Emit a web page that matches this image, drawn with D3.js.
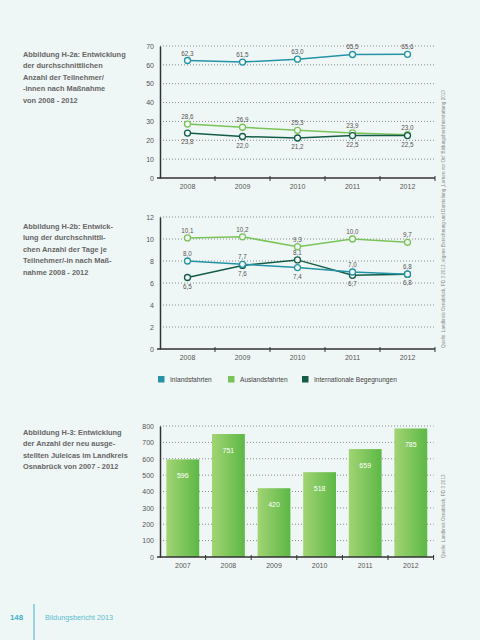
<!DOCTYPE html>
<html><head><meta charset="utf-8">
<script src="https://cdn.jsdelivr.net/npm/d3@7/dist/d3.min.js"></script>
<style>
html,body{margin:0;padding:0;background:#eff7f6;}
svg{display:block;font-family:"Liberation Sans",Arial,sans-serif;}
</style></head><body>
<svg id="c" width="480" height="640"></svg>
<script>
// ---------- DATA ----------
const years = ["2008", "2009", "2010", "2011", "2012"];
const seriesNames = ["Inlandsfahrten", "Auslandsfahrten", "Internationale Begegnungen"];
const inlandTeilnehmer   = [62.3, 61.5, 63.0, 65.5, 65.6];
const auslandTeilnehmer  = [28.6, 26.9, 25.3, 23.9, 23.0];
const internatTeilnehmer = [23.8, 22.0, 21.2, 22.5, 22.5];
const ticksTeilnehmer = [0, 10, 20, 30, 40, 50, 60, 70];
const inlandTage   = [8.0, 7.7, 7.4, 7.0, 6.8];
const auslandTage  = [10.1, 10.2, 9.3, 10.0, 9.7];
const internatTage = [6.5, 7.6, 8.1, 6.7, 6.8];
const ticksTage = [0, 2, 4, 6, 8, 10, 12];
const juleicaYears  = ["2007", "2008", "2009", "2010", "2011", "2012"];
const juleicaCounts = [596, 751, 420, 518, 659, 785];
const ticksJuleica = [0, 100, 200, 300, 400, 500, 600, 700, 800];

const titleA = ["Abbildung H-2a: Entwicklung", "der durchschnittlichen", "Anzahl der Teilnehmer/", "-innen nach Maßnahme", "von 2008 - 2012"];
const titleB = ["Abbildung H-2b: Entwick-", "lung der durchschnittli-", "chen Anzahl der Tage je", "Teilnehmer/-in nach Maß-", "nahme 2008 - 2012"];
const titleC = ["Abbildung H-3: Entwicklung", "der Anzahl der neu ausge-", "stellten Juleicas im Landkreis", "Osnabrück von 2007 - 2012"];
const sourceA = "Quelle: Landkreis Osnabrück, PD 3 2013, eigene Berechnung und Darstellung „Lernen vor Ort“ Bildungsberichterstattung 2013";
const sourceC = "Quelle: Landkreis Osnabrück, PD 3 2013";

// ---------- STYLE ----------
const colors = ["#2593a6", "#79c35a", "#145c47"];
const textCol = "#555";
const svg = d3.select("#c");
const fmt = v => d3.format(".1f")(v).replace(".", ",");

function title(lines, x, y) {
  const t = svg.append("text").attr("x", x).attr("y", y).attr("font-size", 7.4)
    .attr("font-weight", "bold").attr("fill", "#666");
  lines.forEach((l, i) => t.append("tspan").attr("x", x).attr("dy", i ? 11.4 : 0).text(l));
}

function frame(x, y, ticks, yLabelFmt, cats) {
  const g = svg.append("g");
  // gridlines
  g.selectAll(".grid").data(ticks.filter(t => t > 0)).join("line")
    .attr("x1", x.range()[0]).attr("x2", x.range()[1])
    .attr("y1", d => y(d)).attr("y2", d => y(d))
    .attr("stroke", "#8a8a8a").attr("stroke-width", 1).attr("stroke-dasharray", "1,2");
  // y axis
  const ya = d3.axisLeft(y).tickValues(ticks).tickSize(0).tickPadding(6).tickFormat(yLabelFmt);
  const yg = g.append("g").attr("transform", `translate(${x.range()[0]},0)`).call(ya);
  yg.select(".domain").attr("stroke", "#333").attr("stroke-width", 1.5);
  yg.selectAll("text").attr("font-size", 7).attr("fill", textCol).attr("font-family", "Liberation Sans, Arial");
  // x axis
  const xa = d3.axisBottom(x).tickSize(0).tickPadding(6);
  const xg = g.append("g").attr("transform", `translate(0,${y(0)})`).call(xa);
  xg.select(".domain").attr("stroke", "#333").attr("stroke-width", 1.5)
    .attr("d", `M${x.range()[0] - 3},0H${x.range()[1]}`);
  xg.selectAll("text").attr("font-size", 7).attr("fill", textCol).attr("font-family", "Liberation Sans, Arial");
  // separators
  const bw = x.step();
  g.selectAll(".sep").data(cats).join("line")
    .attr("x1", d => x(d) - x.step() * x.paddingOuter() + bw - (x.step() - x.bandwidth()) / 2 + (x.step() - x.bandwidth()) / 2)
    .attr("x2", d => x(d) - x.step() * x.paddingOuter() + bw)
    .attr("y1", y(0) - 2).attr("y2", y(0) + 3)
    .attr("stroke", "#333").attr("stroke-width", 1);
}

function lineChart(top, bottom, ticks, data) {
  const x = d3.scaleBand().domain(years).range([160, 435]);
  const y = d3.scaleLinear().domain([0, d3.max(ticks)]).range([bottom, top]);
  frame(x, y, ticks, d3.format("d"), years);
  const [inl, aus, intl] = data;
  const line = d3.line().x((d, i) => x(years[i]) + x.bandwidth() / 2).y(d => y(d));
  // draw order: ausland, inland, intl
  [1, 2, 0].forEach(s => {
    svg.append("path").datum(data[s]).attr("d", line).attr("fill", "none")
      .attr("stroke", colors[s]).attr("stroke-width", 1.5);
  });
  [1, 2, 0].forEach(s => {
    svg.append("g").selectAll("circle").data(data[s]).join("circle")
      .attr("cx", (d, i) => x(years[i]) + x.bandwidth() / 2).attr("cy", d => y(d)).attr("r", 3)
      .attr("fill", "#f6fbfa").attr("stroke", colors[s]).attr("stroke-width", 1.3);
  });
  data.forEach((vals, s) => {
    svg.append("g").selectAll("text").data(vals).join("text")
      .attr("x", (d, i) => x(years[i]) + x.bandwidth() / 2)
      .attr("y", (d, i) => {
        let below = false;
        if (s === 2) below = d <= inl[i];
        if (s === 0) below = d < intl[i];
        return below ? y(d) + 11 : y(d) - 5;
      })
      .attr("text-anchor", "middle").attr("font-size", 6.3).attr("fill", textCol)
      .text(d => fmt(d));
  });
}

// ---------- CHART 1 ----------
title(titleA, 23, 57);
lineChart(46, 178, ticksTeilnehmer, [inlandTeilnehmer, auslandTeilnehmer, internatTeilnehmer]);

// ---------- CHART 2 ----------
title(titleB, 23, 229);
lineChart(217, 349, ticksTage, [inlandTage, auslandTage, internatTage]);

// ---------- LEGEND ----------
const legendX = [158, 228, 302];
seriesNames.forEach((n, i) => {
  svg.append("rect").attr("x", legendX[i]).attr("y", 376).attr("width", 6.5).attr("height", 6.5).attr("fill", colors[i]);
  svg.append("text").attr("x", legendX[i] + 12).attr("y", 382).attr("font-size", 6.6).attr("fill", "#444").text(n);
});

// ---------- CHART 3 ----------
title(titleC, 23, 435);
{
  const x = d3.scaleBand().domain(juleicaYears).range([160, 433.6]).paddingInner(0.28).paddingOuter(0.14);
  const y = d3.scaleLinear().domain([0, 800]).range([557, 426]);
  const defs = svg.append("defs");
  const grad = defs.append("linearGradient").attr("id", "barGrad").attr("x1", "0").attr("x2", "1").attr("y1", "0").attr("y2", "0");
  grad.append("stop").attr("offset", "0%").attr("stop-color", "#a2d474");
  grad.append("stop").attr("offset", "100%").attr("stop-color", "#5cb845");
  // gridlines first
  const xs = d3.scaleBand().domain(juleicaYears).range([160, 433.6]);
  svg.append("g").selectAll("line").data(ticksJuleica.filter(t => t > 0)).join("line")
    .attr("x1", 160).attr("x2", 433.6).attr("y1", d => y(d)).attr("y2", d => y(d))
    .attr("stroke", "#8a8a8a").attr("stroke-dasharray", "1,2");
  svg.append("g").selectAll("rect").data(juleicaCounts).join("rect")
    .attr("x", (d, i) => x(juleicaYears[i])).attr("width", x.bandwidth())
    .attr("y", d => y(d)).attr("height", d => y(0) - y(d)).attr("fill", "url(#barGrad)");
  svg.append("g").selectAll("text").data(juleicaCounts).join("text")
    .attr("x", (d, i) => x(juleicaYears[i]) + x.bandwidth() / 2).attr("y", d => y(d) + 19)
    .attr("text-anchor", "middle").attr("font-size", 7).attr("fill", "#fff").text(d => d);
  const ya = d3.axisLeft(y).tickValues(ticksJuleica).tickSize(0).tickPadding(6);
  const yg = svg.append("g").attr("transform", "translate(160,0)").call(ya);
  yg.select(".domain").attr("stroke", "#333").attr("stroke-width", 1.5);
  yg.selectAll("text").attr("font-size", 7).attr("fill", textCol).attr("font-family", "Liberation Sans, Arial");
  const xa = d3.axisBottom(xs).tickSize(0).tickPadding(6);
  const xg = svg.append("g").attr("transform", `translate(0,${y(0)})`).call(xa);
  xg.select(".domain").attr("stroke", "#333").attr("stroke-width", 1.5).attr("d", "M157,0H433.6");
  xg.selectAll("text").attr("font-size", 7).attr("fill", textCol).attr("font-family", "Liberation Sans, Arial");
  svg.append("g").selectAll("line").data(juleicaYears).join("line")
    .attr("x1", d => xs(d) + xs.step()).attr("x2", d => xs(d) + xs.step())
    .attr("y1", y(0) - 2).attr("y2", y(0) + 3).attr("stroke", "#333");
}

// ---------- SOURCES ----------
svg.append("text").attr("transform", "translate(445,348) rotate(-90)").attr("font-size", 4.6)
  .attr("fill", "#888").text(sourceA);
svg.append("text").attr("transform", "translate(445,558) rotate(-90)").attr("font-size", 4.6)
  .attr("fill", "#888").text(sourceC);

// ---------- FOOTER ----------
svg.append("line").attr("x1", 34).attr("x2", 34).attr("y1", 604).attr("y2", 640).attr("stroke", "#5bbdd0").attr("stroke-width", 1.2);
svg.append("text").attr("x", 10).attr("y", 620).attr("font-size", 7.8).attr("font-weight", "bold").attr("fill", "#3fb0c8").text("148");
svg.append("text").attr("x", 45).attr("y", 620).attr("font-size", 7.3).attr("fill", "#5bbdd0").text("Bildungsbericht 2013");
</script>
</body></html>
